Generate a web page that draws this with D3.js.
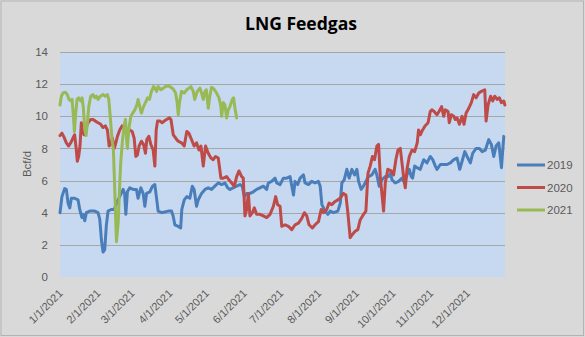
<!DOCTYPE html>
<html><head><meta charset="utf-8">
<script src="https://cdn.jsdelivr.net/npm/d3@7/dist/d3.min.js"></script>
<style>html,body{margin:0;padding:0;background:#d9d9d9;}svg{display:block;}</style>
</head><body>
<script>
const title = "LNG Feedgas";
const yTitle = "Bcf/d";
const yTicks = [0, 2, 4, 6, 8, 10, 12, 14];
const monthLabels = ["1/1/2021","2/1/2021","3/1/2021","4/1/2021","5/1/2021","6/1/2021","7/1/2021","8/1/2021","9/1/2021","10/1/2021","11/1/2021","12/1/2021"];
const seriesNames = ["2019", "2020", "2021"];
// [day of year offset from 1/1, Bcf/d]
const s2019 = [[0,4.0],[1.6,5.0],[3.8,5.5],[5.2,5.45],[6.6,4.6],[8,4.3],[9.3,4.9],[12,4.9],[14.8,4.8],[16.2,4.2],[18,3.7],[19,3.9],[20.3,3.5],[21.6,4.0],[24.4,4.1],[28.5,4.1],[31.2,4.0],[32.6,3.6],[34,2.3],[35.3,1.55],[36.7,1.7],[38,3.2],[39.4,4.1],[42,4.2],[44.4,4.2],[47,4.7],[49,5.0],[51.8,5.45],[53,5.2],[54,3.9],[55.3,5.3],[57.2,5.55],[60,5.45],[62.7,5.45],[64,4.9],[66.3,5.55],[68.2,5.2],[69.6,4.4],[71,5.2],[73.7,5.3],[75.9,5.65],[77.8,5.75],[79.7,4.6],[80.5,4.1],[83.3,4.0],[88.7,4.1],[91.5,4.1],[92.8,3.8],[94.2,3.25],[97,3.15],[99,3.05],[99.9,4.2],[101.9,4.8],[104,5.0],[106.5,4.9],[108.5,5.65],[110,5.45],[112,4.4],[113.4,4.8],[116.1,5.2],[118.9,5.45],[121.6,5.55],[124.3,5.45],[127,5.65],[129.8,5.85],[132.6,5.75],[135.3,5.85],[137.5,5.55],[139.4,5.45],[142,5.55],[144.9,5.65],[147.6,5.75],[149.5,5.65],[151.2,5.0],[153.1,5.2],[155.9,5.2],[158.6,5.3],[161.3,5.45],[164,5.55],[166.8,5.65],[169.5,5.45],[170.9,5.85],[173.6,5.95],[176.4,6.15],[177.8,5.85],[180.5,5.75],[183.2,6.15],[186,6.15],[188.7,6.25],[191.5,5.1],[192.8,5.95],[195,5.75],[196.9,6.15],[199.7,6.35],[201,5.85],[203.8,5.75],[206.4,5.95],[209.2,5.85],[211.9,5.95],[213.4,5.65],[214.8,4.5],[217.5,4.1],[219.7,3.9],[221.6,4.1],[224.3,4.0],[227.9,4.1],[229.9,4.6],[231.2,5.85],[233.1,6.05],[235.3,6.7],[237.2,6.15],[239.4,6.7],[241.6,6.35],[243.5,6.7],[244.9,5.95],[247,5.45],[248.9,5.65],[250.9,5.95],[253,6.25],[255.8,6.35],[258.5,6.7],[259.9,6.35],[261.8,5.65],[264,6.05],[266.8,6.25],[269.5,6.25],[271.1,6.45],[272.3,6.05],[275,5.85],[277.7,5.95],[280.5,6.15],[282.7,5.85],[284.6,6.35],[286.5,6.7],[288.1,6.25],[289.2,6.15],[290.9,6.9],[292.8,6.8],[295.5,6.7],[298.3,7.3],[301,7.1],[303.7,7.5],[305.7,7.3],[307.9,6.9],[309.2,6.7],[312,7.0],[314.7,7.0],[317.5,7.0],[320.2,7.1],[323,7.3],[325.7,7.4],[327.9,6.7],[329.8,7.2],[332,7.8],[333.9,7.5],[336.6,7.1],[338.5,7.7],[341.3,8.0],[344,8.0],[346.2,7.8],[348.9,7.9],[351.7,8.55],[353.8,8.25],[355.8,7.5],[357.7,8.15],[359.9,8.35],[362.1,6.8],[364,8.75]];
const s2020 = [[0,8.8],[1.6,8.95],[3.3,8.7],[5.2,8.35],[7.1,8.15],[8.8,8.35],[10.7,8.65],[12,8.85],[13.4,7.9],[14.2,7.2],[15.3,7.5],[16.4,8.15],[17.5,9.6],[18.6,9.15],[19.7,8.85],[21.4,9.3],[23,9.6],[25.2,9.8],[27.1,9.8],[29,9.7],[31.2,9.6],[33.4,9.5],[35.3,9.3],[37.2,9.4],[38.9,9.15],[40.3,8.15],[41.6,8.25],[43,8.65],[44.4,8.0],[45.5,8.25],[47.1,8.75],[49,9.15],[50.9,9.4],[53.1,9.3],[55.3,9.05],[57.2,9.15],[59.2,9.05],[60.8,8.65],[62.2,7.5],[63.5,7.6],[64.9,8.15],[66.8,8.45],[68.5,8.25],[70.1,7.7],[71.2,8.55],[72.9,8.75],[74.5,8.25],[76.4,7.9],[77.8,6.9],[78.9,9.15],[80,9.7],[81.9,9.7],[83.8,9.6],[85.5,9.7],[87.4,9.8],[89.8,9.9],[91,9.8],[92.9,8.85],[94.8,8.65],[96.9,8.45],[99.7,8.35],[101.9,8.15],[104,9.05],[105.7,8.95],[107.9,8.55],[110,8.15],[112,8.35],[114,7.9],[115.6,8.15],[117.5,6.9],[119.4,8.15],[121.6,7.7],[123.8,7.4],[125.7,7.3],[127.6,7.5],[129.8,7.4],[132,6.15],[133.9,6.15],[136.7,6.25],[138.6,6.05],[140.8,5.85],[143,5.65],[144.9,6.25],[146.8,6.6],[149,6.25],[150.3,6.15],[151.7,3.8],[153.1,4.2],[154.5,5.2],[155.8,3.8],[157.8,4.0],[159.4,4.3],[161.3,3.9],[164,3.9],[166.8,3.8],[169.5,3.7],[172.3,3.9],[175,4.4],[176.9,5.0],[178.5,4.5],[180.5,4.4],[181.9,3.15],[184.6,3.25],[187.4,3.15],[190.1,2.95],[192.8,3.25],[195.6,3.35],[198.3,3.65],[200.5,4.0],[202.4,3.8],[204.3,3.25],[207,3.05],[209.2,3.25],[212,3.45],[214.2,4.2],[216.1,4.0],[218.8,4.2],[220.7,4.6],[222.9,4.5],[225.7,4.7],[227.9,4.8],[229.8,4.9],[232.5,5.2],[234.5,5.1],[236.1,4.0],[238,2.45],[239.9,2.65],[242.1,2.85],[244.3,2.95],[246.2,3.55],[249,3.9],[250.9,4.1],[252.6,6.45],[254.4,6.9],[256.3,7.5],[258,7.3],[259.9,8.15],[261.3,8.25],[262.7,6.25],[264,5.2],[265.4,4.1],[266.8,5.85],[268.9,6.7],[271.7,6.6],[273.6,6.35],[275.5,7.3],[277.2,7.9],[279.1,8.0],[280.5,7.1],[281.8,6.25],[283.2,5.55],[284.6,6.7],[286.5,7.5],[288.7,7.9],[290.9,7.8],[293,8.35],[294.1,9.15],[295.5,8.85],[297.4,9.15],[299.4,9.4],[301.9,9.6],[303.7,10.3],[305,10.4],[306.9,10.3],[309.2,10.1],[310.9,10.3],[313,10.6],[314.7,10.0],[316.1,10.4],[318.3,10.3],[319.3,9.6],[321,10.1],[323,10.0],[324.3,9.8],[325.7,9.9],[327.6,9.5],[329.8,10.0],[331.4,9.5],[333.1,10.2],[335.3,10.5],[337.4,10.85],[339.3,11.35],[341.3,11.15],[343.5,11.45],[345.6,11.55],[348.4,11.65],[349.5,9.7],[351.1,10.7],[353.2,11.25],[354.9,10.95],[356.6,11.25],[358.5,11.05],[360.4,11.15],[362,10.85],[364,10.95],[364.9,10.7]];
const s2021 = [[0,10.7],[1.1,11.25],[2.5,11.45],[4.4,11.5],[6,11.35],[7.4,11.05],[8.8,10.95],[9.9,11.05],[11,10.0],[11.8,9.05],[12.9,10.2],[14,11.05],[15.3,11.15],[17,10.95],[18.1,11.15],[19.2,10.5],[20.3,9.2],[21.4,8.8],[22.5,9.6],[23.6,10.6],[25.2,11.25],[27.1,11.35],[28.5,11.15],[29.9,11.25],[31.2,11.05],[33.1,11.25],[35.3,11.35],[37.2,11.25],[38.9,11.35],[40,11.05],[41.4,9.8],[42.7,8.55],[43.8,7.9],[44.9,5.45],[46.3,2.2],[47.7,3.35],[48.8,5.45],[49.8,7.1],[51.2,8.45],[52.6,9.4],[53.7,9.8],[54.8,8.35],[55.3,8.0],[56.4,9.2],[58.1,10.0],[59.7,10.2],[61.4,10.4],[63,10.7],[64.1,11.05],[65.7,10.5],[66.8,10.2],[68.5,10.6],[70.1,10.85],[71.8,11.15],[73.4,11.05],[75,11.55],[76.7,11.85],[77.8,11.75],[79.2,11.55],[80.5,11.85],[82.7,11.65],[84.6,11.75],[86.6,11.85],[88.7,11.9],[91,11.8],[92.9,11.7],[94.8,11.45],[96.1,10.85],[97,10.1],[98,10.85],[99.7,11.55],[101.9,11.45],[104,11.65],[105.8,11.75],[107.4,11.85],[109.3,11.55],[110.5,11.05],[112.6,11.55],[114.8,11.75],[116.1,11.45],[117.5,11.05],[118.9,11.55],[120,11.65],[121.6,10.5],[122.9,11.25],[124.3,11.8],[126.3,11.7],[128.4,11.45],[130.4,11.15],[131.8,10.7],[132.6,10.0],[134,10.85],[135.3,10.7],[136.7,9.9],[138,10.4],[139.4,10.6],[141.3,11.05],[142.4,11.15],[143.5,10.5],[144.9,9.9]];
const seriesColors = ["#4a7ebb", "#be4b48", "#98b954"];

const W = 585, H = 337;
const plot = {left: 60, right: 505, top: 52, bottom: 277};
const startDate = new Date(2021, 0, 1);
const dayMs = 86400000;
const toDate = d => new Date(startDate.getTime() + d * dayMs);

const svg = d3.select("body").append("svg").attr("width", W).attr("height", H);
svg.append("rect").attr("x", 1).attr("y", 1).attr("width", W - 2.5).attr("height", H - 2.5)
  .attr("fill", "#d9d9d9").attr("stroke", "#b3b3b3").attr("stroke-width", 1);

const x = d3.scaleTime().domain([startDate, new Date(2022, 0, 1)]).range([plot.left, plot.right]);
const y = d3.scaleLinear().domain([0, 14]).range([plot.bottom, plot.top]);

svg.append("rect").attr("x", plot.left).attr("y", plot.top)
  .attr("width", plot.right - plot.left).attr("height", plot.bottom - plot.top).attr("fill", "#c6d9f0");

// gridlines
svg.append("g").selectAll("line").data(yTicks.filter(t => t > 0)).join("line")
  .attr("x1", plot.left).attr("x2", plot.right)
  .attr("y1", d => Math.round(y(d)) + 0.5).attr("y2", d => Math.round(y(d)) + 0.5)
  .attr("stroke", "#a6a6a6").attr("stroke-width", 1);

const font = "'Liberation Sans', Arial, sans-serif";
// y axis
const yAxis = d3.axisLeft(y).tickValues(yTicks).tickSize(0).tickPadding(12);
const gy = svg.append("g").attr("transform", `translate(${plot.left},0)`).call(yAxis);
gy.select(".domain").remove();
gy.selectAll("text").attr("font-family", font).attr("font-size", 11.5).attr("fill", "#595959");

// x axis labels (month starts)
const monthDates = monthLabels.map(s => { const p = s.split("/"); return new Date(+p[2], +p[0] - 1, +p[1]); });
const xAxis = d3.axisBottom(x).tickValues(monthDates).tickSize(0).tickFormat((d, i) => monthLabels[i]);
const gx = svg.append("g").attr("transform", `translate(0,${plot.bottom})`).call(xAxis);
gx.select(".domain").remove();
gx.selectAll("text").attr("font-family", font).attr("font-size", 11).attr("fill", "#595959")
  .attr("text-anchor", "end").attr("dy", null).attr("y", null)
  .attr("transform", "translate(3,17) rotate(-45)");

// series
const line = d3.line().x(d => x(toDate(d[0]))).y(d => y(d[1]));
[s2019, s2020, s2021].forEach((s, i) => {
  svg.append("path").datum(s).attr("d", line).attr("fill", "none")
    .attr("stroke", seriesColors[i]).attr("stroke-width", 3)
    .attr("stroke-linejoin", "round").attr("stroke-linecap", "round");
});

// title
svg.append("text").attr("x", 301).attr("y", 30).attr("text-anchor", "middle")
  .attr("font-family", "'Open Sans', sans-serif").attr("font-weight", "bold").attr("font-size", 18)
  .attr("textLength", 112).attr("lengthAdjust", "spacingAndGlyphs").attr("fill", "#000").text(title);

// y title
svg.append("text").attr("transform", `translate(31,164) rotate(-90)`).attr("text-anchor", "middle")
  .attr("font-family", font).attr("font-size", 11.5).attr("fill", "#595959").text(yTitle);

// legend
const legY = [165, 187.5, 210];
const leg = svg.append("g");
seriesNames.forEach((n, i) => {
  leg.append("line").attr("x1", 517).attr("x2", 545).attr("y1", legY[i]).attr("y2", legY[i])
    .attr("stroke", seriesColors[i]).attr("stroke-width", 3);
  leg.append("text").attr("x", 547).attr("y", legY[i]).attr("dy", "0.36em")
    .attr("font-family", font).attr("font-size", 11.5).attr("fill", "#595959").text(n);
});
</script>
</body></html>
